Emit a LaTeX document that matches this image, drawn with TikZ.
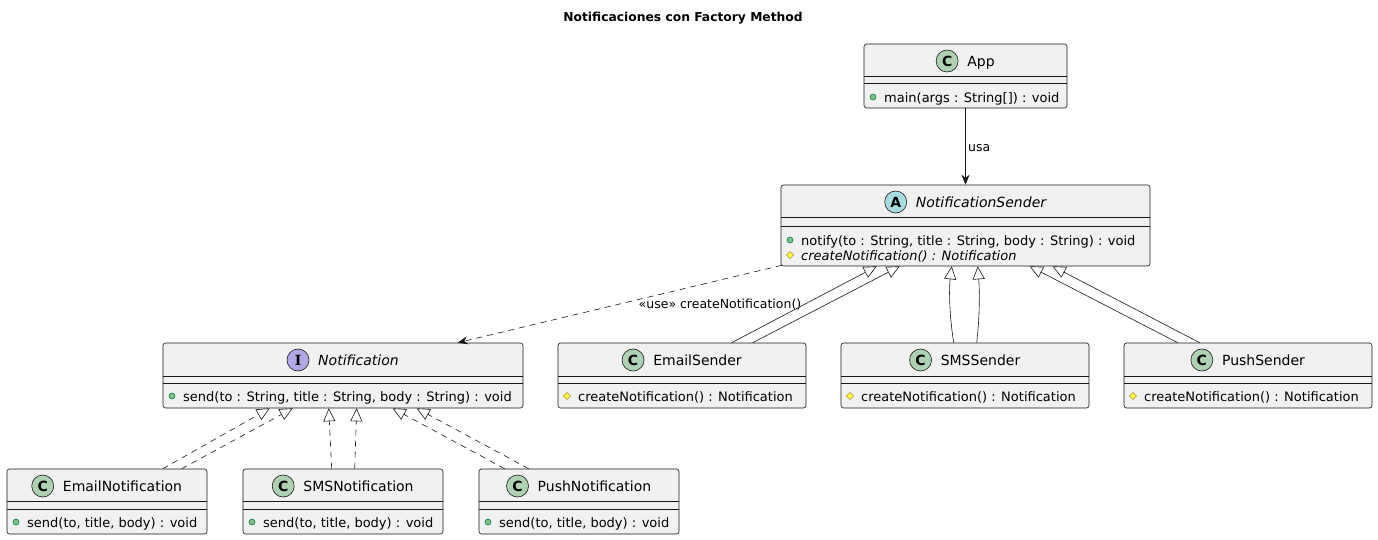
\documentclass[tikz,border=0pt]{standalone}
\usepackage{fontspec}
\setmainfont{DejaVu Sans}
\newfontfamily\serifI{DejaVu Serif}
\usetikzlibrary{fit,arrows.meta,calc}
\definecolor{boxfill}{HTML}{F1F1F1}
\definecolor{ink}{HTML}{181818}
\definecolor{cgreen}{HTML}{ADD1B2}
\definecolor{acyan}{HTML}{A9DCDF}
\definecolor{ipurple}{HTML}{B4A7E5}
\definecolor{pubfill}{HTML}{84BE84}
\definecolor{publine}{HTML}{038048}
\definecolor{protfill}{HTML}{FFFF44}
\definecolor{protline}{HTML}{B38D22}
\newcommand{\clshead}[6]{%
  \node[ctitle] (#1T) at (#2+15.5,#3) {#6};
  \node[icon, fill=#5] at ([xshift=-20pt]#1T.west) {#4};
}
\newcommand{\pubmember}[3]{%
  \draw[pubdot] (#1+9,#2) circle (3pt);
  \node[member] at (#1+20,#2) {#3};
}
\newcommand{\protmember}[3]{%
  \draw[protdia] (#1+5.5,#2) -- (#1+9,#2-3.5) -- (#1+12.5,#2) -- (#1+9,#2+3.5) -- cycle;
  \node[member] at (#1+20,#2) {#3};
}
\begin{document}
\begin{tikzpicture}[x=1pt,y=-1pt,
  clsbox/.style={draw=ink, fill=boxfill, rounded corners=2.5pt, inner sep=0pt, line width=0.6pt},
  divider/.style={draw=ink, line width=0.5pt},
  ctitle/.style={inner sep=0pt, text height=12pt, text depth=2pt, font=\fontsize{14}{16}\selectfont},
  member/.style={inner sep=0pt, anchor=west, text height=12pt, text depth=2pt, font=\fontsize{13}{16}\selectfont},
  icon/.style={circle, draw=ink, line width=0.6pt, minimum size=22pt, inner sep=0pt, font=\bfseries\fontsize{14}{14}\selectfont},
  pubdot/.style={draw=publine, fill=pubfill, line width=0.6pt},
  protdia/.style={draw=protline, fill=protfill, line width=0.6pt},
  lbl/.style={inner sep=0pt, font=\fontsize{12.5}{14}\selectfont},
  assoc/.style={draw=ink, line width=0.6pt, -{Stealth[length=10pt, width=8pt]}},
  dep/.style={draw=ink, line width=0.6pt, dash pattern=on 6pt off 5pt, -{Stealth[length=10pt, width=8pt]}},
  ext/.style={draw=ink, line width=0.6pt, -{Triangle[open, length=13pt, width=12pt, fill=white]}},
  impl/.style={draw=ink, line width=0.6pt, dash pattern=on 6pt off 5pt, -{Triangle[open, length=13pt, width=12pt, fill=white]}}
]
\useasboundingbox (0,0) rectangle (1378,539);

% title
\node[inner sep=0pt, font=\bfseries\fontsize{12.3}{14}\selectfont] (title) at (683,18) {Notificaciones con Factory Method};

% App
\node[clsbox, fit={(864,44)(1067,108)}] (App) {};
\draw[divider] (864,76) -- (1067,76);
\draw[divider] (864,83) -- (1067,83);
\clshead{App}{965.5}{61}{C}{cgreen}{App}
\pubmember{864}{97}{main(args : String[]) : void}

% NotificationSender
\node[clsbox, fit={(781,185)(1150,266)}] (NS) {};
\draw[divider] (781,217) -- (1150,217);
\draw[divider] (781,226) -- (1150,226);
\clshead{NS}{965.5}{202}{A}{acyan}{\itshape NotificationSender}
\pubmember{781}{240}{notify(to : String, title : String, body : String) : void}
\protmember{781}{255}{\itshape createNotification() : Notification}

% Notification
\node[clsbox, fit={(163,343)(523,408)}] (Notif) {};
\draw[divider] (163,376) -- (523,376);
\draw[divider] (163,383) -- (523,383);
\clshead{Notif}{343}{360}{\serifI\bfseries I}{ipurple}{\itshape Notification}
\pubmember{163}{396}{send(to : String, title : String, body : String) : void}

% Senders
\node[clsbox, fit={(558,343)(806,408)}] (ES) {};
\draw[divider] (558,376) -- (806,376);
\draw[divider] (558,383) -- (806,383);
\clshead{ES}{682}{360}{C}{cgreen}{EmailSender}
\protmember{558}{396}{createNotification() : Notification}

\node[clsbox, fit={(841,343)(1089,408)}] (SS) {};
\draw[divider] (841,376) -- (1089,376);
\draw[divider] (841,383) -- (1089,383);
\clshead{SS}{965}{360}{C}{cgreen}{SMSSender}
\protmember{841}{396}{createNotification() : Notification}

\node[clsbox, fit={(1124,343)(1372,408)}] (PS) {};
\draw[divider] (1124,376) -- (1372,376);
\draw[divider] (1124,383) -- (1372,383);
\clshead{PS}{1248}{360}{C}{cgreen}{PushSender}
\protmember{1124}{396}{createNotification() : Notification}

% Notifications
\node[clsbox, fit={(7,469)(207,534)}] (EN) {};
\draw[divider] (7,501) -- (207,501);
\draw[divider] (7,509) -- (207,509);
\clshead{EN}{107}{486}{C}{cgreen}{EmailNotification}
\pubmember{7}{522}{send(to, title, body) : void}

\node[clsbox, fit={(243,469)(443,534)}] (SN) {};
\draw[divider] (243,501) -- (443,501);
\draw[divider] (243,509) -- (443,509);
\clshead{SN}{343}{486}{C}{cgreen}{SMSNotification}
\pubmember{243}{522}{send(to, title, body) : void}

\node[clsbox, fit={(479,469)(679,534)}] (PN) {};
\draw[divider] (479,501) -- (679,501);
\draw[divider] (479,509) -- (679,509);
\clshead{PN}{579}{486}{C}{cgreen}{PushNotification}
\pubmember{479}{522}{send(to, title, body) : void}

% App uses NotificationSender
\draw[assoc] (App.south) -- (NS.north);
\node[lbl, anchor=west] (usa) at (968,148) {usa};

% dependency
\draw[dep] ([shift={(1,-1)}]NS.south west) -- ([xshift=295pt]Notif.north west);
\node[lbl] (uselbl) at (720,305) {«use» createNotification()};

% inheritance senders
\draw[ext] ([xshift=174pt]ES.north west) -- ([xshift=96pt]NS.south west);
\draw[ext] ([xshift=195pt]ES.north west) -- ([xshift=119pt]NS.south west);
\draw[ext] ([xshift=113pt]SS.north west) .. controls +(-4,-25) and +(-3,25) .. ([xshift=171pt]NS.south west);
\draw[ext] ([xshift=136pt]SS.north west) .. controls +(3,-25) and +(2,25) .. ([xshift=197pt]NS.south west);
\draw[ext] ([xshift=54pt]PS.north west) -- ([xshift=249pt]NS.south west);
\draw[ext] ([xshift=76pt]PS.north west) -- ([xshift=272pt]NS.south west);

% realizations
\draw[impl] ([xshift=156pt]EN.north west) -- ([xshift=107pt]Notif.south west);
\draw[impl] ([xshift=175pt]EN.north west) -- ([xshift=130pt]Notif.south west);
\draw[impl] ([xshift=89pt]SN.north west) -- ([xshift=166pt]Notif.south west);
\draw[impl] ([xshift=112pt]SN.north west) -- ([xshift=194pt]Notif.south west);
\draw[impl] ([xshift=26pt]PN.north west) -- ([xshift=230pt]Notif.south west);
\draw[impl] ([xshift=50pt]PN.north west) -- ([xshift=254pt]Notif.south west);
\end{tikzpicture}
\end{document}
